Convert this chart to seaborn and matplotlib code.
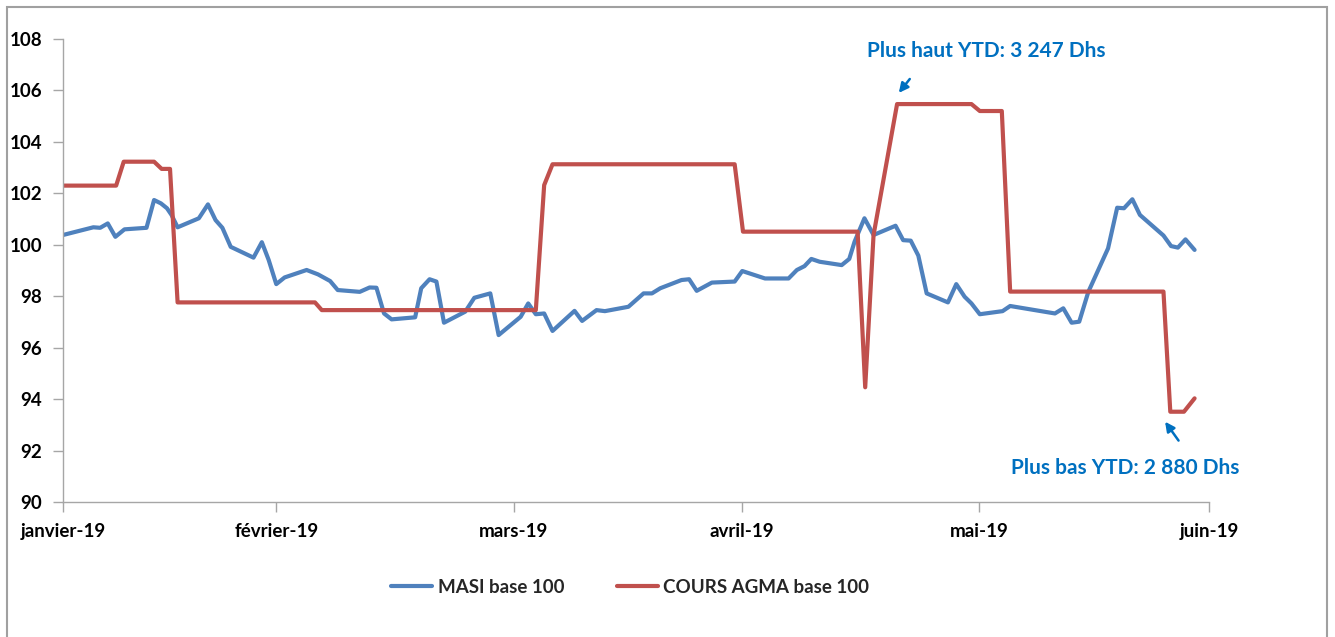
import matplotlib
matplotlib.use("Agg")
import matplotlib.pyplot as plt
from matplotlib.patches import Rectangle
import seaborn as sns

sns.set_theme(style="white")
plt.rcParams['font.family'] = ['Lato', 'DejaVu Sans']

# positions in days from janvier-19 (axis runs 0 -> 151), values base 100
masi_jour = [0, 4.0, 4.9, 5.9, 6.9, 8.1, 11.0, 12.0, 12.9, 13.7, 14.3, 15.1, 17.9, 19.1,
             20.1, 21.0, 22.1, 25.1, 26.2, 27.1, 28.1, 29.2, 32.1, 33.6, 35.2, 36.2, 39.1,
             40.4, 41.3, 42.3, 43.3, 46.4, 47.2, 48.3, 49.2, 50.2, 53.0, 54.2, 56.3, 57.4,
             60.3, 61.3, 62.3, 63.4, 64.5, 67.4, 68.4, 70.3, 71.4, 74.5, 76.5, 77.6, 78.7,
             81.5, 82.5, 83.5, 85.5, 88.5, 89.5, 92.5, 95.6, 96.7, 97.7, 98.6, 99.7, 102.6,
             103.6, 104.3, 105.6, 106.8, 109.7, 110.7, 111.7, 112.7, 113.8, 116.6, 117.7,
             118.8, 119.7, 120.8, 123.8, 124.8, 130.7, 131.8, 132.9, 133.9, 135.1, 137.7,
             138.9, 139.8, 140.9, 141.9, 145.0, 146.0, 146.9, 147.9, 149.1]
masi = [100.38, 100.68, 100.66, 100.83, 100.31, 100.60, 100.66, 101.74, 101.61, 101.42,
        101.16, 100.68, 101.03, 101.57, 100.96, 100.66, 99.92, 99.50, 100.10, 99.41, 98.47,
        98.73, 99.02, 98.85, 98.59, 98.24, 98.17, 98.34, 98.33, 97.33, 97.10, 97.18, 98.31,
        98.66, 98.57, 96.97, 97.40, 97.94, 98.11, 96.49, 97.20, 97.72, 97.30, 97.33, 96.65,
        97.43, 97.04, 97.46, 97.42, 97.59, 98.11, 98.11, 98.31, 98.63, 98.66, 98.21, 98.53,
        98.57, 98.98, 98.69, 98.69, 99.02, 99.17, 99.45, 99.34, 99.21, 99.45, 100.12,
        101.03, 100.38, 100.74, 100.18, 100.16, 99.58, 98.11, 97.76, 98.47, 97.98, 97.72,
        97.30, 97.42, 97.62, 97.33, 97.53, 96.97, 97.01, 98.17, 99.86, 101.44, 101.42,
        101.77, 101.16, 100.36, 99.95, 99.89, 100.21, 99.80]

agma_jour = [0, 7.0, 8.0, 12.0, 13.0, 14.1, 15.1, 33.2, 34.1, 62.3, 63.4, 64.5, 88.5, 89.6,
             104.7, 105.7, 106.8, 109.9, 119.7, 120.8, 123.7, 124.8, 145.0, 145.9, 147.7, 149.1]
agma = [102.30, 102.30, 103.23, 103.23, 102.95, 102.95, 97.76, 97.76, 97.46, 97.46, 102.32,
        103.13, 103.13, 100.51, 100.51, 94.46, 100.38, 105.47, 105.47, 105.20, 105.20, 98.18,
        98.18, 93.51, 93.51, 94.03]

mois_pos = [0, 28.1, 59.4, 89.5, 120.7, 151]
mois_labels = ["janvier-19", "février-19", "mars-19", "avril-19", "mai-19", "juin-19"]

blue = "#4F81BD"
red = "#C0504D"
note = "#0070C0"
grey = "#A6A6A6"

fig = plt.figure(figsize=(13.35, 6.37), dpi=100)
ax = fig.add_axes([63 / 1335, 1 - 502 / 637, (1209 - 63) / 1335, (502 - 39) / 637])

sns.lineplot(x=masi_jour, y=masi, ax=ax, color=blue, lw=3, label="MASI base 100")
sns.lineplot(x=agma_jour, y=agma, ax=ax, color=red, lw=3, label="COURS AGMA base 100")

ax.set_xlim(0, 151)
ax.set_ylim(90, 108)
ax.set_yticks(range(90, 109, 2))
ax.set_xticks(mois_pos)
ax.set_xticklabels(mois_labels)
for lab in ax.get_xticklabels() + ax.get_yticklabels():
    lab.set_fontweight("bold")
    lab.set_fontsize(13.5)
    lab.set_color("black")
ax.tick_params(axis="both", direction="out", length=7, width=1, color=grey,
               bottom=True, left=True)
ax.tick_params(axis="y", pad=8)
ax.tick_params(axis="x", pad=8)
for side in ["top", "right"]:
    ax.spines[side].set_visible(False)
for side in ["left", "bottom"]:
    ax.spines[side].set_color(grey)
    ax.spines[side].set_linewidth(1)

# annotations
ax.text(121.6, 107.53, "Plus haut YTD: 3 247 Dhs", color=note, fontsize=15,
        fontweight="bold", ha="center", va="center")
ax.annotate("", xy=(109.9, 105.82), xytext=(111.8, 106.53),
            arrowprops=dict(arrowstyle="-|>", color=note, lw=1.8, mutation_scale=14))
ax.text(140.0, 91.32, "Plus bas YTD: 2 880 Dhs", color=note, fontsize=15,
        fontweight="bold", ha="center", va="center")
ax.annotate("", xy=(145.0, 93.21), xytext=(147.2, 92.30),
            arrowprops=dict(arrowstyle="-|>", color=note, lw=1.8, mutation_scale=14))

ax.get_legend().remove()
handles, labels = ax.get_legend_handles_labels()
leg = fig.legend(handles, labels, loc="center", bbox_to_anchor=(0.472, 0.078), ncol=2,
                 frameon=False, handlelength=2.2, handletextpad=0.3, columnspacing=2.8,
                 prop={"weight": "bold", "size": 13.5})

# chart border
fig.add_artist(Rectangle((7 / 1335, -0.05), (1327 - 7) / 1335, 1.05 - 7 / 637,
                         transform=fig.transFigure, fill=False, edgecolor="#A0A0A0", lw=1.5))

fig.savefig("out.png", dpi=100, facecolor="white")
